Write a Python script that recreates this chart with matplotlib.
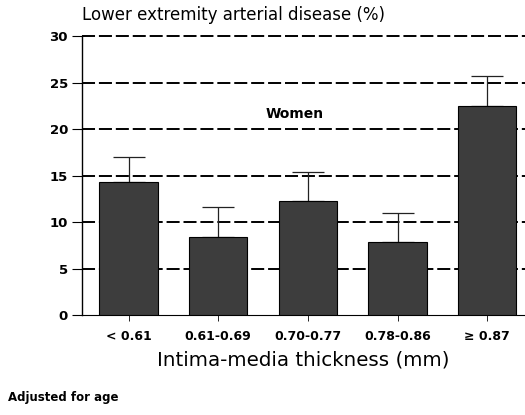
import numpy as np
import matplotlib
matplotlib.use("Agg")
import matplotlib.pyplot as plt

plt.rcParams['font.family'] = ['DejaVu Sans']

# data
categories = ["< 0.61", "0.61-0.69", "0.70-0.77", "0.78-0.86", "\u2265 0.87"]
prevalence = [14.3, 8.4, 12.3, 7.8, 22.5]
upper_ci = [17.0, 11.6, 15.4, 11.0, 25.7]
yticks = [0, 5, 10, 15, 20, 25, 30]

x = np.arange(len(categories))
err_up = np.array(upper_ci) - np.array(prevalence)

fig = plt.figure(figsize=(5.25, 4.15), dpi=100)
ax = fig.add_axes([0.156, 0.241, 0.844, 0.672])

for yv in yticks[1:]:
    ax.axhline(yv, color='black', lw=1.4, ls=(0, (6.7, 2.0)), zorder=1,
               clip_on=False)

ax.bar(x, prevalence, width=0.65, color='#3d3d3d', edgecolor='black',
       lw=0.8, zorder=3)
ax.errorbar(x, prevalence, yerr=[np.zeros(len(x)), err_up], fmt='none',
            ecolor='#222222', elinewidth=0.9, capsize=11.5, capthick=0.9,
            zorder=2)

ax.set_xlim(-0.52, 4.42)
ax.set_ylim(0, 30)
ax.set_yticks(yticks)
ax.set_yticklabels([str(v) for v in yticks], fontsize=9.5, fontweight='bold')
ax.set_xticks(x)
ax.set_xticklabels(categories, fontsize=9, fontweight='bold')
ax.tick_params(axis='y', length=7, width=0.8, pad=3)
ax.tick_params(axis='x', length=4, width=0.6, pad=7)

for s in ['top', 'right']:
    ax.spines[s].set_visible(False)
ax.spines['left'].set_linewidth(1.0)
ax.spines['bottom'].set_linewidth(0.8)

ax.set_xlabel("Intima-media thickness (mm)", fontsize=14.3, labelpad=5)
fig.text(0.156, 0.964, "Lower extremity arterial disease (%)", fontsize=12,
         ha='left', va='center')
ax.text(1.85, 21.6, "Women", fontsize=10, fontweight='bold', ha='center',
        va='center')
fig.text(0.015, 0.043, "Adjusted for age", fontsize=8.5, fontweight='bold',
         ha='left', va='center')

fig.savefig("out.png", dpi=100)
